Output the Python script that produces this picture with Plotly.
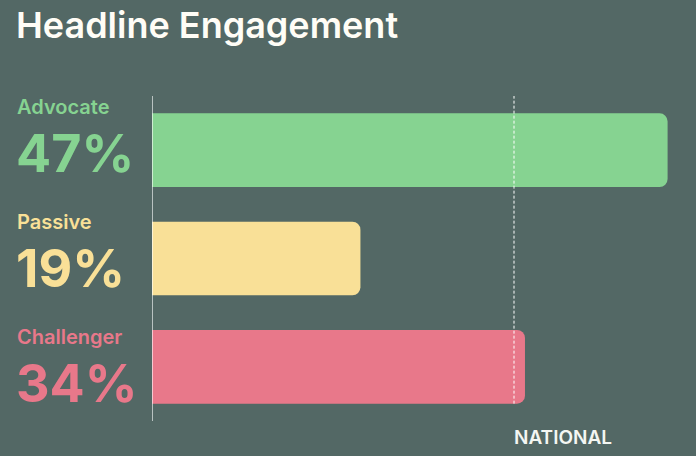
import plotly.graph_objects as go

# Engagement segments, top to bottom
segments = ["Advocate", "Passive", "Challenger"]
shares = [47, 19, 34]
colors = ["#86D391", "#F9E097", "#E8788A"]
national = 33

BG = "#536865"
FONT = "Inter"

W, H = 696, 456
ML, MR, MT, MB = 152, 6, 96, 35
plot_w = W - ML - MR
plot_h = H - MT - MB
px_per_unit = 10.97
x_max = plot_w / px_per_unit

n = len(segments)
ypos = list(range(n - 1, -1, -1))  # first segment on top
bar_w = 0.68

fig = go.Figure()
fig.add_trace(go.Bar(
    x=shares,
    y=ypos,
    orientation="h",
    width=bar_w,
    marker=dict(color=colors, line=dict(width=0)),
    hoverinfo="skip",
))

# Segment names and values stacked in the left gutter
row_step = 115
name_top = 107
value_gap = 46
annotations = []
for i, (seg, val, col) in enumerate(zip(segments, shares, colors)):
    name_py = name_top + i * row_step
    value_py = name_py + value_gap
    annotations.append(dict(
        text=seg, xref="paper", yref="paper",
        x=(15 - ML) / plot_w, y=(H - MB - name_py) / plot_h,
        xanchor="left", yanchor="middle", showarrow=False,
        font=dict(family=FONT, size=20, color=col, weight=600),
    ))
    annotations.append(dict(
        text=f"{val}%", xref="paper", yref="paper",
        x=(14 - ML) / plot_w, y=(H - MB - value_py) / plot_h,
        xanchor="left", yanchor="middle", showarrow=False,
        font=dict(family=FONT, size=52, color=col, weight=700),
    ))

# National benchmark label under the dashed line
annotations.append(dict(
    text="NATIONAL", xref="x", yref="paper",
    x=national, xshift=-2, y=(H - MB - 437) / plot_h,
    xanchor="left", yanchor="middle", showarrow=False,
    font=dict(family=FONT, size=19, color="#F4F6F2", weight=600),
))

shapes = [
    # baseline at zero
    dict(type="line", xref="x", yref="paper", x0=0, x1=0, y0=0, y1=1,
         line=dict(color="#FFFFFF", width=1.2), layer="above"),
    # national benchmark
    dict(type="line", xref="x", yref="y", x0=national, x1=national,
         y0=ypos[-1] - bar_w / 2, y1=ypos[0] + 0.5,
         line=dict(color="#FFFFFF", width=1, dash="3px,2px"), layer="above"),
]

fig.update_layout(
    width=W, height=H,
    margin=dict(l=ML, r=MR, t=MT, b=MB),
    paper_bgcolor=BG, plot_bgcolor=BG,
    showlegend=False,
    barcornerradius=8,
    title=dict(
        text="Headline Engagement",
        x=16 / W, xanchor="left", y=1 - 25 / H, yanchor="middle",
        font=dict(family=FONT, size=36, color="#FFFDF6", weight=600),
    ),
    xaxis=dict(range=[0, x_max], visible=False, fixedrange=True),
    yaxis=dict(range=[-0.5, n - 0.5], visible=False, fixedrange=True),
    annotations=annotations,
    shapes=shapes,
)

fig.write_html("out.html", config={"displayModeBar": False})
